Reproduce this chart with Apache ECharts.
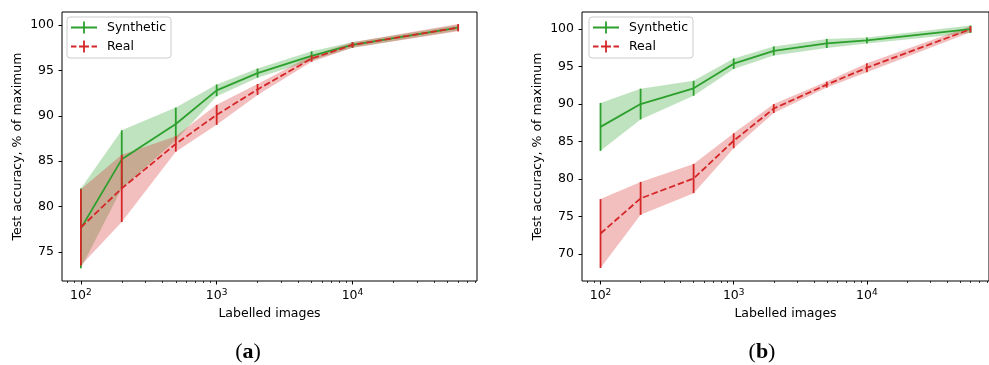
<!DOCTYPE html>
<html>
<head>
<meta charset="utf-8">
<script src="https://cdn.jsdelivr.net/npm/echarts@6/dist/echarts.min.js"></script>
<style>
  html, body { margin: 0; padding: 0; background: #fff; }
  #chart { width: 989px; height: 365px; }
</style>
</head>
<body>
<div id="chart"></div>
<script>
// number of labelled images (x, log scale)
const labelled = [100, 200, 500, 1000, 2000, 5000, 10000, 60000];

// panel (a)
const synthA = [77.6, 85.2, 89.1, 92.8, 94.7, 96.6, 97.8, 99.7];
const synthAErr = [4.4, 3.2, 1.8, 0.65, 0.5, 0.5, 0.3, 0.3];
const realA = [77.7, 82.0, 86.9, 90.1, 92.9, 96.3, 97.8, 99.7];
const realAErr = [4.2, 3.7, 0.85, 1.1, 0.6, 0.35, 0.3, 0.4];

// panel (b)
const synthB = [86.95, 90.0, 92.1, 95.4, 97.1, 98.1, 98.5, 100.0];
const synthBErr = [3.2, 2.05, 1.0, 0.7, 0.6, 0.6, 0.4, 0.5];
const realB = [72.7, 77.4, 80.05, 85.1, 89.4, 92.6, 94.85, 100.0];
const realBErr = [4.6, 2.2, 1.95, 1.0, 0.6, 0.4, 0.6, 0.4];

// tick labels
const yTicksA = [75, 80, 85, 90, 95, 100];
const yTicksB = [70, 75, 80, 85, 90, 95, 100];
const xMajor = [2, 3, 4];
const xMinor = [80, 90, 200, 300, 400, 500, 600, 700, 800, 900,
  2000, 3000, 4000, 5000, 6000, 7000, 8000, 9000,
  20000, 30000, 40000, 50000, 60000, 70000, 80000].map(Math.log10);

const GREEN = "#2ca02c";
const RED = "#d62728";
const FONT = "DejaVu Sans";
const FS = 12.5;

const chart = echarts.init(document.getElementById("chart"), null, { renderer: "canvas" });

const xs = labelled.map(Math.log10);
const pts = (vals) => vals.map((v, i) => [xs[i], v]);
const bars = (vals, errs) => vals.map((v, i) => [xs[i], v - errs[i], v + errs[i]]);

const bandSeries = (idx, vals, errs, color) => ({
  type: "custom",
  xAxisIndex: idx * 2,
  yAxisIndex: idx,
  silent: true,
  z: 1,
  data: [0],
  renderItem: (params, api) => {
    const upper = vals.map((v, i) => api.coord([xs[i], v + errs[i]]));
    const lower = vals.map((v, i) => api.coord([xs[i], v - errs[i]])).reverse();
    return {
      type: "polygon",
      shape: { points: upper.concat(lower) },
      style: { fill: color, opacity: 0.3 },
    };
  },
});

const errSeries = (idx, vals, errs, color, z) => ({
  type: "custom",
  xAxisIndex: idx * 2,
  yAxisIndex: idx,
  silent: true,
  z: z,
  data: bars(vals, errs),
  encode: { x: 0, y: [1, 2] },
  renderItem: (params, api) => {
    const a = api.coord([api.value(0), api.value(1)]);
    const b = api.coord([api.value(0), api.value(2)]);
    return {
      type: "line",
      shape: { x1: a[0], y1: a[1], x2: b[0], y2: b[1] },
      style: { stroke: color, lineWidth: 1.8 },
    };
  },
});

const lineSeries = (idx, name, vals, color, dashed, z) => ({
  type: "line",
  name: name,
  xAxisIndex: idx * 2,
  yAxisIndex: idx,
  data: pts(vals),
  symbol: "none",
  z: z,
  color: color,
  itemStyle: { color: color },
  lineStyle: { color: color, width: 1.8, type: dashed ? [6.5, 2.8] : "solid" },
  emphasis: { disabled: true },
});

const xAxes = (idx) => [
  {
    type: "value",
    gridIndex: idx,
    min: 1.861,
    max: 4.917,
    position: "bottom",
    axisLine: { show: false },
    splitLine: { show: false },
    axisTick: { show: true, customValues: xMajor, length: 3.5, lineStyle: { color: "#000", width: 1 } },
    axisLabel: {
      customValues: xMajor,
      margin: 7,
      color: "#000",
      formatter: (v) => "{b|10}{s|" + Math.round(v) + "}",
      rich: {
        b: { fontFamily: FONT, fontSize: FS, color: "#000" },
        s: { fontFamily: FONT, fontSize: 9, color: "#000", verticalAlign: "top", padding: [0, 0, 6, 0] },
      },
    },
    name: "Labelled images",
    nameLocation: "middle",
    nameGap: 26,
    nameTextStyle: { fontFamily: FONT, fontSize: FS, color: "#000" },
  },
  {
    type: "value",
    gridIndex: idx,
    min: 1.861,
    max: 4.917,
    position: "bottom",
    axisLine: { show: false },
    splitLine: { show: false },
    axisTick: { show: true, customValues: xMinor, length: 2, lineStyle: { color: "#000", width: 0.8 } },
    axisLabel: { show: false },
  },
];

const yAxis = (idx, min, max, ticks) => ({
  type: "value",
  gridIndex: idx,
  min: min,
  max: max,
  axisLine: { show: false },
  splitLine: { show: false },
  axisTick: { show: true, customValues: ticks, length: 3.5, lineStyle: { color: "#000", width: 1 } },
  axisLabel: { customValues: ticks, margin: 8, fontFamily: FONT, fontSize: FS, color: "#000" },
  name: "Test accuracy, % of maximum",
  nameLocation: "middle",
  nameGap: 38,
  nameTextStyle: { fontFamily: FONT, fontSize: FS, color: "#000" },
});

const iconSolid = "path://M0,5.1H26V6.9H0Z M12.1,0H13.9V12H12.1Z";
const iconDashed = "path://M0,5.1H5.5V6.9H0Z M8,5.1H12.1V6.9H8Z M13.9,5.1H18V6.9H13.9Z M20.5,5.1H26V6.9H20.5Z M12.1,0H13.9V12H12.1Z";

const legend = (left) => ({
  left: left,
  top: 17,
  orient: "vertical",
  itemWidth: 26,
  itemHeight: 12,
  itemGap: 6,
  padding: [4, 5, 5, 4],
  backgroundColor: "rgba(255,255,255,0.8)",
  borderColor: "#cccccc",
  borderWidth: 1,
  borderRadius: 3,
  selectedMode: false,
  itemStyle: { borderWidth: 0 },
  lineStyle: { width: 0 },
  textStyle: { fontFamily: FONT, fontSize: FS, color: "#000", padding: [0, 0, 0, 5] },
  data: [
    { name: "Synthetic", icon: iconSolid },
    { name: "Real", icon: iconDashed },
  ],
});

const caption = (cx, letter) => ({
  type: "text",
  x: cx,
  y: 352,
  style: {
    text: "({b|" + letter + "})",
    fontFamily: "Liberation Serif",
    fontSize: 22,
    fill: "#000",
    align: "center",
    verticalAlign: "middle",
    rich: { b: { fontFamily: "Liberation Serif", fontSize: 22, fontWeight: "bold", fill: "#000" } },
  },
});

const option = {
  animation: false,
  backgroundColor: "#fff",
  grid: [
    { left: 62, top: 12, width: 415, height: 269, show: true, borderColor: "#000", borderWidth: 1, backgroundColor: "transparent" },
    { left: 582, top: 12, width: 415, height: 269, show: true, borderColor: "#000", borderWidth: 1, backgroundColor: "transparent" },
  ],
  xAxis: [...xAxes(0), ...xAxes(1)],
  yAxis: [yAxis(0, 71.8, 101.43, yTicksA), yAxis(1, 66.36, 102.3, yTicksB)],
  legend: [legend(67), legend(589)],
  series: [
    bandSeries(0, synthA, synthAErr, GREEN),
    bandSeries(0, realA, realAErr, RED),
    errSeries(0, synthA, synthAErr, GREEN, 3),
    lineSeries(0, "Synthetic", synthA, GREEN, false, 3),
    errSeries(0, realA, realAErr, RED, 4),
    lineSeries(0, "Real", realA, RED, true, 4),
    bandSeries(1, synthB, synthBErr, GREEN),
    bandSeries(1, realB, realBErr, RED),
    errSeries(1, synthB, synthBErr, GREEN, 3),
    lineSeries(1, "Synthetic", synthB, GREEN, false, 3),
    errSeries(1, realB, realBErr, RED, 4),
    lineSeries(1, "Real", realB, RED, true, 4),
  ],
  graphic: [caption(248, "a"), caption(762, "b")],
};

chart.setOption(option);
</script>
</body>
</html>
